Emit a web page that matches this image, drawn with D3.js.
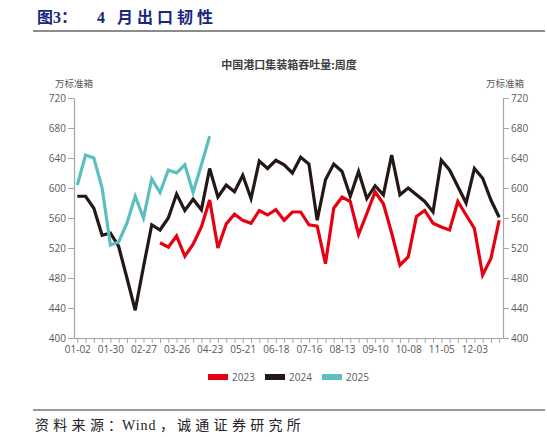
<!DOCTYPE html>
<html>
<head>
<meta charset="utf-8">
<script src="https://cdn.jsdelivr.net/npm/d3@7"></script>
<style>
  html, body { margin: 0; padding: 0; background: #fff; }
  svg { display: block; }
  .axis text { font-family: "Open Sans", "Noto Sans CJK SC", sans-serif; font-size: 10px; fill: #595959; }
  .axis path, .axis line { stroke: #a6a6a6; }
</style>
</head>
<body>
<svg id="chart" width="547" height="437"></svg>
<script>
// weekly categories (2024 calendar, as on the source axis)
const weeks = [
  '01-02', '01-09', '01-16', '01-23', '01-30', '02-06', '02-13', '02-20', '02-27',
  '03-05', '03-12', '03-19', '03-26', '04-02', '04-09', '04-16', '04-23', '04-30',
  '05-07', '05-14', '05-21', '05-28', '06-04', '06-11', '06-18', '06-25', '07-02',
  '07-09', '07-16', '07-23', '07-30', '08-06', '08-13', '08-20', '08-27', '09-03',
  '09-10', '09-17', '09-24', '10-01', '10-08', '10-15', '10-22', '10-29', '11-05',
  '11-12', '11-19', '11-26', '12-03', '12-10', '12-17', '12-24'
];

// 万标准箱
const y2023 = [
  null, null, null, null, null, null, null, null, null, null,
  527, 521, 536, 509, 525, 548, 584, 520, 552, 565,
  557, 553, 570, 564, 571, 557, 568, 568, 551, 549,
  499, 573, 588, 582, 538, 566, 595, 579, 540, 497,
  508, 562, 570, 553, 548, 544, 582, 564, 546, 484,
  506, 557
];
const y2024 = [
  589, 589, 573, 537, 540, 522, 480, 437, 495, 551,
  544, 560, 592, 570, 585, 571, 626, 588, 604, 595,
  617, 586, 636, 626, 637, 631, 620, 641, 632, 557,
  611, 632, 622, 589, 622, 586, 603, 591, 644, 591,
  600, 591, 582, 568, 637, 624, 602, 580, 626, 613,
  584, 561
];
const y2025 = [
  604, 644, 640, 600, 524, 528, 553, 589, 560, 612,
  594, 624, 620, 631, 594, 631, 669
];

const yTicks = [400, 440, 480, 520, 560, 600, 640, 680, 720];

const seriesList = [
  { name: '2023', values: y2023, color: '#e60012' },
  { name: '2024', values: y2024, color: '#231815' },
  { name: '2025', values: y2025, color: '#5cbfbf' }
];

const svg = d3.select('#chart');

// page header: "图3：" then a spaced-out caption
const header = svg.append('text')
    .attr('y', 23)
    .attr('font-family', '"Liberation Serif", "Noto Sans CJK SC", serif')
    .attr('font-weight', 'bold')
    .attr('font-size', 16)
    .attr('fill', '#1b2580');
header.append('tspan').attr('x', 37).text('图3：');
header.append('tspan').attr('x', 97).attr('letter-spacing', 4).text('4 月出口韧性');

svg.append('line')
    .attr('x1', 33).attr('x2', 545).attr('y1', 31).attr('y2', 31)
    .attr('stroke', '#666').attr('stroke-width', 1.6);

// plot area
const plotLeft = 74, plotRight = 503, plotTop = 98, plotBottom = 338;

const x = d3.scalePoint()
    .domain(weeks)
    .range([77.3, 499.2]);

const y = d3.scaleLinear()
    .domain([400, 720])
    .range([plotBottom, plotTop]);

// chart title + units
svg.append('text')
    .attr('x', 289).attr('y', 69)
    .attr('text-anchor', 'middle')
    .attr('font-family', '"Noto Sans CJK SC", sans-serif')
    .attr('font-weight', 'bold')
    .attr('font-size', 11)
    .attr('fill', '#404040')
    .text('中国港口集装箱吞吐量:周度');

[74, 505].forEach(cx => {
    svg.append('text')
        .attr('x', cx).attr('y', 87)
        .attr('text-anchor', 'middle')
        .attr('font-family', '"Noto Sans CJK SC", sans-serif')
        .attr('font-size', 9.5)
        .attr('fill', '#595959')
        .text('万标准箱');
});

// y axes
const gLeft = svg.append('g')
    .attr('class', 'axis')
    .attr('transform', `translate(${plotLeft},0)`)
    .call(d3.axisLeft(y).tickValues(yTicks).tickSize(6).tickPadding(2).tickSizeOuter(0));

const gRight = svg.append('g')
    .attr('class', 'axis')
    .attr('transform', `translate(${plotRight},0)`)
    .call(d3.axisRight(y).tickValues(yTicks).tickSize(6).tickPadding(2).tickSizeOuter(0));

// x axis
const gBottom = svg.append('g')
    .attr('class', 'axis')
    .attr('transform', `translate(0,${plotBottom})`)
    .call(d3.axisBottom(x)
        .tickSize(5)
        .tickPadding(3)
        .tickSizeOuter(0)
        .tickFormat((d, i) => (i % 4 === 0 ? d : '')));

// stretch the baseline across both y axes
gBottom.select('.domain').attr('d', `M${plotLeft},0.5H${plotRight}`);

[gLeft, gRight, gBottom].forEach(g => g.selectAll('.domain').attr('stroke-width', 1.2));

// series lines
const line = d3.line()
    .defined(d => d.v != null)
    .x(d => x(d.week))
    .y(d => y(d.v));

seriesList.forEach(s => {
    const pts = s.values.map((v, i) => ({ week: weeks[i], v }));
    svg.append('path')
        .datum(pts)
        .attr('fill', 'none')
        .attr('stroke', s.color)
        .attr('stroke-width', 3.2)
        .attr('stroke-linejoin', 'miter')
        .attr('d', line);
});

// legend
const legendX = [208, 265, 322];
seriesList.forEach((s, i) => {
    const g = svg.append('g').attr('transform', `translate(${legendX[i]},377)`);
    g.append('rect')
        .attr('x', 0).attr('y', -3)
        .attr('width', 20).attr('height', 6)
        .attr('fill', s.color);
    g.append('text')
        .attr('x', 24).attr('y', 3.5)
        .attr('font-family', '"Open Sans", sans-serif')
        .attr('font-size', 10)
        .attr('fill', '#595959')
        .text(s.name);
});

// footer
svg.append('line')
    .attr('x1', 33).attr('x2', 545).attr('y1', 410).attr('y2', 410)
    .attr('stroke', '#333').attr('stroke-width', 1.2);
const source = svg.append('text')
    .attr('y', 430)
    .attr('font-family', '"Liberation Serif", "Noto Sans CJK SC", serif')
    .attr('font-size', 14)
    .attr('fill', '#222');
source.append('tspan').attr('x', 35).attr('letter-spacing', 4.3).text('资料来源');
source.append('tspan').attr('x', 108).text('：');
source.append('tspan').attr('x', 122).attr('letter-spacing', 1).text('Wind');
source.append('tspan').attr('x', 160).text('，');
source.append('tspan').attr('x', 177).attr('letter-spacing', 4.3).text('诚通证券研究所');
</script>
</body>
</html>
